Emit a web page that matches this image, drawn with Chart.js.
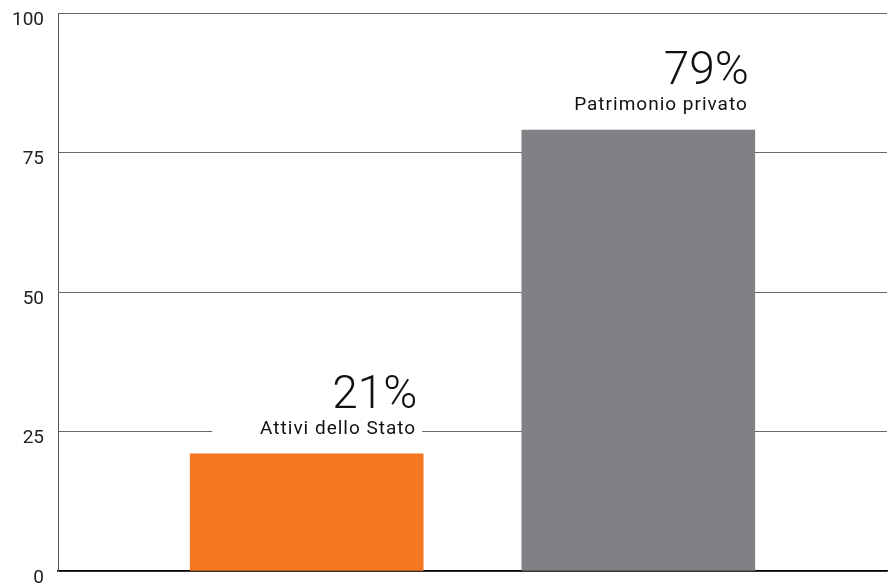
<!DOCTYPE html>
<html>
<head>
<meta charset="utf-8">
<script src="https://cdn.jsdelivr.net/npm/chart.js@4.4.1/dist/chart.umd.min.js"></script>
<style>
  html, body { margin: 0; padding: 0; background: #fff; }
  #wrap { width: 891px; height: 587px; position: relative; }
</style>
</head>
<body>
<div id="wrap"><canvas id="chart"></canvas></div>
<script>
// ---- data ----
// empty slots keep the two bars where the original puts them
const categories = ['', 'Attivi dello Stato', '', 'Patrimonio privato', ''];
const shares = [null, 21, null, 79, null];
const barColors = ['#fff', '#f47721', '#fff', '#808184', '#fff'];
const yTicks = [0, 25, 50, 75, 100];

// draws "21%" + the name above each bar, on a white patch that hides the grid
const barLabels = {
  id: 'barLabels',
  afterDatasetsDraw(chart) {
    const ctx = chart.ctx;
    const meta = chart.getDatasetMeta(0);
    meta.data.forEach((bar, i) => {
      if (shares[i] == null) return;
      const right = bar.x + bar.width / 2;
      const top = bar.y;
      ctx.save();
      ctx.fillStyle = '#fff';
      ctx.fillRect(right - 211, top - 88, 210, 70);
      ctx.fillStyle = '#111';
      ctx.textAlign = 'right';
      ctx.textBaseline = 'alphabetic';
      ctx.font = '300 46px Roboto';
      ctx.fillText(shares[i] + '%', right - 6, top - 46);
      ctx.font = '19px Roboto';
      ctx.letterSpacing = '1px';
      ctx.fillText(categories[i], right - 7, top - 20);
      ctx.restore();
    });
  }
};

new Chart(document.getElementById('chart'), {
  type: 'bar',
  data: {
    labels: categories,
    datasets: [{
      data: shares,
      backgroundColor: barColors,
      barThickness: 233,
      borderWidth: 0
    }]
  },
  options: {
    responsive: true,
    maintainAspectRatio: false,
    animation: false,
    layout: { padding: { top: 13, right: 4, bottom: 16, left: 0 } },
    plugins: { legend: { display: false }, tooltip: { enabled: false } },
    scales: {
      x: {
        grid: { display: false },
        ticks: { display: false },
        border: { display: true, color: '#000', width: 1.5 },
        afterFit: s => { s.height = 0; s.paddingLeft = 0; s.paddingRight = 0; }
      },
      y: {
        min: 0,
        max: 100,
        afterBuildTicks: s => { s.ticks = yTicks.map(v => ({ value: v })); },
        ticks: {
          color: '#222',
          font: { family: 'Roboto', size: 19 },
          padding: 14,
          labelOffset: 7
        },
        grid: { color: '#666', lineWidth: 1, drawTicks: false },
        border: { display: true, color: '#555', width: 1 },
        afterFit: s => { s.width = 58; s.paddingTop = 0; s.paddingBottom = 0; }
      }
    }
  },
  plugins: [barLabels]
});
</script>
</body>
</html>
